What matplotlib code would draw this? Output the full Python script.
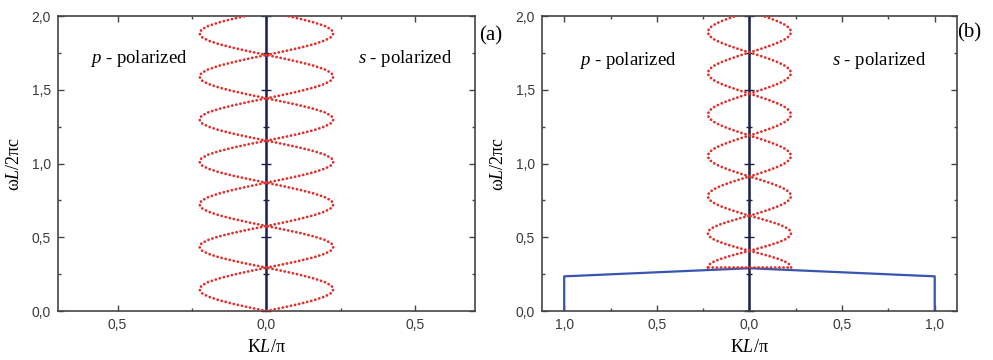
import matplotlib
matplotlib.use("Agg")
import matplotlib.pyplot as plt
from matplotlib.ticker import MultipleLocator, FixedLocator, FixedFormatter

plt.rcParams['mathtext.fontset'] = 'custom'
plt.rcParams['mathtext.rm'] = 'Liberation Serif'
plt.rcParams['mathtext.it'] = 'Liberation Serif:italic'

# band crossing frequencies (omega L / 2 pi c)
crossings_a = [0.0, 0.294, 0.576, 0.870, 1.155, 1.442, 1.736, 2.03]
crossings_b = [0.408, 0.646, 0.912, 1.19, 1.474, 1.753, 2.03]
cutoff_b = 0.295          # lowest (half) band edge in panel b
lens_width = 0.225        # max |KL/pi| of each band loop
# normalized loop shape across one band
lens_profile = [0.0, 0.26, 0.50, 0.71, 0.87, 0.97, 1.0, 0.97, 0.87, 0.71, 0.50, 0.26, 0.0]

# blue curve in panel b
blue_k = [-1.0, -1.0, 0.0, 1.0, 1.0]
blue_w = [0.0, 0.235, 0.29, 0.235, 0.0]

y_ticks = [0.0, 0.5, 1.0, 1.5, 2.0]
y_labels = ['0,0', '0,5', '1,0', '1,5', '2,0']
x_ticks_a = [-0.5, 0.0, 0.5]
x_labels_a = ['0,5', '0,0', '0,5']
x_ticks_b = [-1.0, -0.5, 0.0, 0.5, 1.0]
x_labels_b = ['1,0', '0,5', '0,0', '0,5', '1,0']

red = '#e0302c'
navy = '#1c2150'
blue = '#3a55b0'
frame = '#444444'
dot_style = dict(color=red, lw=2.0, linestyle=(0, (0.05, 1.45)),
                 dash_capstyle='round', zorder=3)


def draw_lens(ax, y0, y1, shape):
    n = len(shape) - 1
    ys = [y0 + (y1 - y0) * i / n for i in range(n + 1)]
    ax.plot([lens_width * s for s in shape], ys, **dot_style)
    ax.plot([-lens_width * s for s in shape], ys, **dot_style)


def style_axes(ax, xlim, xticks, xlabels):
    ax.set_xlim(xlim)
    ax.set_ylim(0, 2.0)
    ax.xaxis.set_major_locator(FixedLocator(xticks))
    ax.xaxis.set_major_formatter(FixedFormatter(xlabels))
    ax.xaxis.set_minor_locator(MultipleLocator(0.25))
    ax.yaxis.set_major_locator(FixedLocator(y_ticks))
    ax.yaxis.set_major_formatter(FixedFormatter(y_labels))
    ax.yaxis.set_minor_locator(MultipleLocator(0.25))
    ax.tick_params(which='both', direction='in', top=True, right=True,
                   color=frame, width=1.0, labelsize=10, labelcolor='#3a3a3a', pad=5)
    ax.tick_params(which='major', length=4.5)
    ax.tick_params(which='minor', length=2.5)
    for lab in ax.get_xticklabels() + ax.get_yticklabels():
        lab.set_fontfamily('Liberation Sans')
    for s in ax.spines.values():
        s.set_color(frame)
        s.set_linewidth(1.2)
    ax.set_xlabel(r'K$L$/π', fontsize=13, fontfamily='Liberation Serif', labelpad=5)
    ax.set_ylabel(r'ω$L$/2πc', fontsize=13, fontfamily='Liberation Serif', labelpad=6)

    # axis line at K = 0 with crossing ticks
    ax.axvline(0, color=navy, lw=1.8, zorder=2)
    pos = (0 - xlim[0]) / (xlim[1] - xlim[0])
    sec = ax.secondary_yaxis(pos)
    sec.yaxis.set_major_locator(FixedLocator(y_ticks))
    sec.yaxis.set_minor_locator(MultipleLocator(0.25))
    sec.tick_params(which='both', direction='inout', labelleft=False, labelright=False,
                    color=navy, width=1.0)
    sec.tick_params(which='major', length=7)
    sec.tick_params(which='minor', length=4)
    sec.spines['left'].set_color(navy)
    sec.spines['left'].set_linewidth(1.8)


fig = plt.figure(figsize=(9.93, 3.6), dpi=100)
ax_a = fig.add_axes([0.0584, 0.1361, 0.4199, 0.8194])
ax_b = fig.add_axes([0.5458, 0.1361, 0.4179, 0.8194])

# panel a
for y0, y1 in zip(crossings_a[:-1], crossings_a[1:]):
    draw_lens(ax_a, y0, y1, lens_profile)
style_axes(ax_a, (-0.7, 0.7), x_ticks_a, x_labels_a)

# panel b
half = lens_profile[len(lens_profile) // 2:]
draw_lens(ax_b, cutoff_b, crossings_b[0], half)
ax_b.plot([-lens_width, lens_width], [cutoff_b, cutoff_b], **dot_style)
for y0, y1 in zip(crossings_b[:-1], crossings_b[1:]):
    draw_lens(ax_b, y0, y1, lens_profile)
ax_b.plot(blue_k, blue_w, color=blue, lw=1.6)
style_axes(ax_b, (-1.12, 1.12), x_ticks_b, x_labels_b)

txt = dict(fontsize=13.5, fontfamily='Liberation Serif', ha='center', va='center')
ax_a.text(-0.43, 1.71, r'$p$ - polarized', **txt)
ax_a.text(0.466, 1.71, r'$s$ - polarized', **txt)
ax_b.text(-0.656, 1.70, r'$p$ - polarized', **txt)
ax_b.text(0.70, 1.70, r'$s$ - polarized', **txt)

fig.text(0.4825, 0.90, '(a)', fontsize=15, fontfamily='Liberation Serif', va='center')
fig.text(0.9635, 0.908, '(b)', fontsize=15, fontfamily='Liberation Serif', va='center')

fig.savefig('out.png', dpi=100)
